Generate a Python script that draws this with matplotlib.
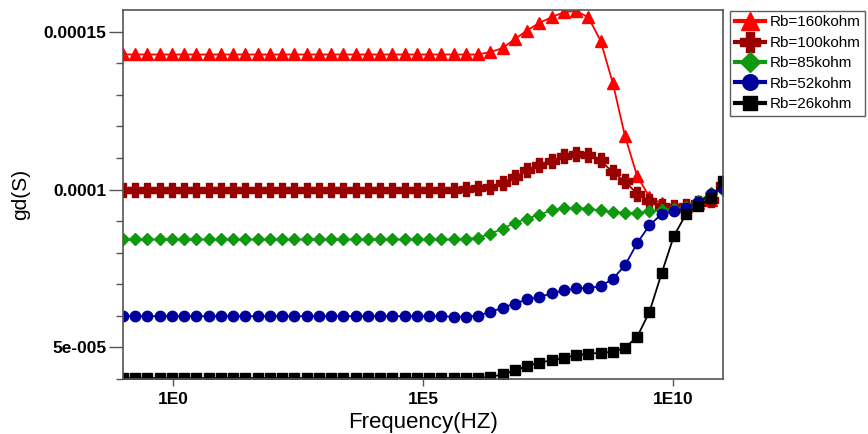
import numpy as np
import matplotlib
matplotlib.use('Agg')
import matplotlib.pyplot as plt
from matplotlib.path import Path
from matplotlib.ticker import FixedLocator, MultipleLocator, FuncFormatter

# frequency sweep: 50 log-spaced points from 0.1 Hz to 100 GHz
freq = np.logspace(-1, 11, 50)

# gd(S) in units of 1e-4 S, one list per base resistance
gd_160k = [1.428] * 30 + [1.436, 1.448, 1.477, 1.504, 1.528, 1.546, 1.562, 1.566,
                          1.546, 1.472, 1.338, 1.169, 1.042, 0.977, 0.956, 0.949,
                          0.949, 0.958, 0.968, 1.016]
gd_100k = [1.000] * 28 + [1.001, 1.004, 1.007, 1.021, 1.039, 1.061, 1.078, 1.090,
                          1.105, 1.113, 1.109, 1.093, 1.055, 1.026, 0.986, 0.963,
                          0.947, 0.946, 0.949, 0.956, 0.968, 1.016]
gd_85k = [0.842] * 27 + [0.842, 0.844, 0.847, 0.860, 0.876, 0.895, 0.908, 0.921,
                         0.934, 0.941, 0.942, 0.939, 0.934, 0.929, 0.926, 0.926,
                         0.931, 0.934, 0.939, 0.945, 0.963, 0.990, 1.000]
gd_52k = [0.599] * 27 + [0.597, 0.598, 0.601, 0.612, 0.626, 0.639, 0.652, 0.660,
                         0.671, 0.681, 0.687, 0.688, 0.694, 0.717, 0.760, 0.831,
                         0.887, 0.923, 0.931, 0.942, 0.960, 0.985, 1.005]
gd_26k = [0.403] * 30 + [0.406, 0.415, 0.427, 0.441, 0.452, 0.459, 0.467, 0.475,
                         0.480, 0.483, 0.486, 0.499, 0.534, 0.613, 0.736, 0.854,
                         0.923, 0.947, 0.974, 1.026]

labels = ['Rb=160kohm', 'Rb=100kohm', 'Rb=85kohm', 'Rb=52kohm', 'Rb=26kohm']
series = [gd_160k, gd_100k, gd_85k, gd_52k, gd_26k]

# fat plus marker, reads as a blocky cross when small
a = 0.42
fat_plus = Path([(-a, -1), (a, -1), (a, -a), (1, -a), (1, a), (a, a), (a, 1),
                 (-a, 1), (-a, a), (-1, a), (-1, -a), (-a, -a), (-a, -1)],
                closed=True)

colors = ['#ff0000', '#990000', '#109910', '#00009c', '#000000']
markers = ['^', fat_plus, 'D', 'o', 's']
msizes = [8.5, 9.5, 6.5, 7.5, 6.5]

fig = plt.figure(figsize=(8.68, 4.34), dpi=100)
ax = fig.add_axes([0.1417, 0.1267, 0.6912, 0.8503])

handles = []
for vals, lab, c, m, ms in zip(series, labels, colors, markers, msizes):
    ln, = ax.plot(freq, np.array(vals) * 1e-4, color=c, marker=m, ms=ms,
                  lw=1.3, mec=c, mfc=c, label=lab)
    handles.append(ln)

ax.set_xscale('log')
ax.set_xlim(0.1, 1e11)
ax.set_ylim(4.0e-5, 1.569e-4)

ax.xaxis.set_major_locator(FixedLocator([1e0, 1e5, 1e10]))
ax.xaxis.set_minor_locator(FixedLocator([]))
ax.xaxis.set_major_formatter(FuncFormatter(
    lambda v, p: {1e0: '1E0', 1e5: '1E5', 1e10: '1E10'}.get(v, '')))

ax.yaxis.set_major_locator(FixedLocator([5e-5, 1e-4, 1.5e-4]))
ax.yaxis.set_minor_locator(MultipleLocator(1e-5))
ax.yaxis.set_major_formatter(FuncFormatter(
    lambda v, p: {5e-5: '5e-005', 1e-4: '0.0001', 1.5e-4: '0.00015'}.get(round(v, 9), '')))

ax.tick_params(axis='y', which='major', length=10, width=1, color='#555555', pad=2)
ax.tick_params(axis='y', which='minor', length=5, width=1, color='#555555')
ax.tick_params(axis='x', which='major', length=5, width=1, color='#555555', pad=4)
for lbl in ax.get_xticklabels() + ax.get_yticklabels():
    lbl.set_fontweight('bold')
    lbl.set_fontsize(12.5)
    lbl.set_family('Liberation Sans')

for s in ax.spines.values():
    s.set_color('#555555')
    s.set_linewidth(1.2)

ax.set_xlabel('Frequency(HZ)', fontsize=16, family='Liberation Sans')
ax.xaxis.set_label_coords(0.5, -0.09)
ax.set_ylabel('gd(S)', fontsize=15, family='Liberation Sans')
ax.yaxis.set_label_coords(-0.155, 0.5)

leg = fig.legend(handles=handles, loc='upper left', bbox_to_anchor=(0.841, 0.975),
                 frameon=True, fancybox=False, edgecolor='#333333',
                 prop={'family': 'Liberation Sans', 'size': 11},
                 handlelength=2.0, handletextpad=0.3, labelspacing=0.42,
                 borderpad=0.3, borderaxespad=0, markerscale=1.5)
leg.get_frame().set_linewidth(1.0)
for h in leg.legend_handles:
    h.set_linewidth(3)

fig.savefig('out.png', dpi=100)
